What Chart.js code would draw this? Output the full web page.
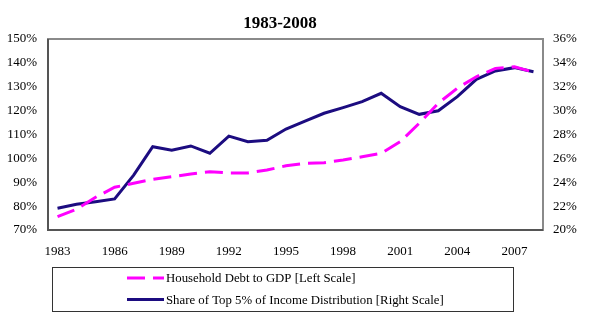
<!DOCTYPE html>
<html>
<head>
<meta charset="utf-8">
<title>1983-2008</title>
<script src="https://cdn.jsdelivr.net/npm/chart.js@4.4.1/dist/chart.umd.min.js"></script>
<style>
    html, body { margin: 0; padding: 0; background: #ffffff; }
    #chart-wrap { width: 589px; height: 330px; }
</style>
</head>
<body>
<div id="chart-wrap"><canvas id="debtShareChart" width="589" height="330"></canvas></div>
<script>
// years on the x axis
const years = [
    "1983", "1984", "1985", "1986", "1987", "1988", "1989", "1990", "1991",
    "1992", "1993", "1994", "1995", "1996", "1997", "1998", "1999", "2000",
    "2001", "2002", "2003", "2004", "2005", "2006", "2007", "2008"
];

// household debt to GDP, % (left scale)
const householdDebt = [
    75.6, 78.7, 83.7, 87.9, 89.6, 91.2, 92.3, 93.5, 94.4,
    93.9, 93.9, 95.1, 96.9, 97.9, 98.2, 99.3, 100.7, 102.1,
    107.0, 114.7, 123.1, 129.4, 134.2, 137.7, 138.4, 136.1
];

// share of top 5% of income distribution, % (right scale)
const topFiveShare = [
    21.82, 22.15, 22.37, 22.6, 24.6, 26.98, 26.68, 27.04, 26.43,
    27.87, 27.4, 27.51, 28.46, 29.13, 29.78, 30.25, 30.75, 31.45,
    30.33, 29.69, 29.99, 31.17, 32.62, 33.32, 33.6, 33.26
];

// axis ranges
const leftRange = [70, 150, 10];
const rightRange = [20, 36, 2];
const yearLabelStep = 3;

const chartTitle = "1983-2008";
const legendLabels = [
    "Household Debt to GDP [Left Scale]",
    "Share of Top 5% of Income Distribution [Right Scale]"
];

const SERIF = "'Liberation Serif', 'Times New Roman', serif";
const PINK = "#ff00ff";
const NAVY = "#1c0c80";

// frame round the plot area + the title
const framePlugin = {
    id: "frameAndTitle",
    beforeDatasetsDraw(chart) {
        const { ctx, chartArea: a } = chart;
        ctx.save();
        ctx.strokeStyle = "#8a8a8a";
        ctx.lineWidth = 2;
        ctx.strokeRect(a.left, a.top, a.right - a.left, a.bottom - a.top);
        // left & bottom edges a bit darker, like the original
        ctx.strokeStyle = "#555";
        ctx.beginPath();
        ctx.moveTo(a.left, a.top);
        ctx.lineTo(a.left, a.bottom);
        ctx.lineTo(a.right, a.bottom);
        ctx.stroke();
        ctx.restore();
    },
    afterDraw(chart) {
        const ctx = chart.ctx;
        ctx.save();
        ctx.fillStyle = "#000";
        ctx.font = "bold 17px " + SERIF;
        ctx.textAlign = "center";
        ctx.textBaseline = "middle";
        ctx.fillText(chartTitle, 280, 24);
        ctx.restore();
    }
};

// boxed legend below the axis, rows left aligned
const boxLegendPlugin = {
    id: "boxLegend",
    afterDraw(chart) {
        const ctx = chart.ctx;
        ctx.save();
        ctx.strokeStyle = "#333";
        ctx.lineWidth = 1;
        ctx.strokeRect(52.5, 267.5, 461, 44);

        const rowsY = [278, 299.5];
        chart.data.datasets.forEach((ds, i) => {
            ctx.strokeStyle = ds.borderColor;
            ctx.lineWidth = ds.borderWidth;
            ctx.setLineDash(ds.borderDash || []);
            ctx.beginPath();
            ctx.moveTo(127, rowsY[i]);
            ctx.lineTo(164, rowsY[i]);
            ctx.stroke();
            ctx.setLineDash([]);
            ctx.fillStyle = "#000";
            ctx.font = "12.8px " + SERIF;
            ctx.textAlign = "left";
            ctx.textBaseline = "middle";
            ctx.fillText(legendLabels[i], 166, rowsY[i] + 1);
        });
        ctx.restore();
    }
};

Chart.defaults.font.family = SERIF;
Chart.defaults.color = "#000";

new Chart(document.getElementById("debtShareChart"), {
    type: "line",
    data: {
        labels: years,
        datasets: [
            {
                label: legendLabels[0],
                data: householdDebt,
                yAxisID: "yLeft",
                borderColor: PINK,
                borderWidth: 3,
                borderDash: [18, 8],
                pointRadius: 0,
                tension: 0,
                fill: false
            },
            {
                label: legendLabels[1],
                data: topFiveShare,
                yAxisID: "yRight",
                borderColor: NAVY,
                borderWidth: 3,
                pointRadius: 0,
                tension: 0,
                fill: false
            }
        ]
    },
    options: {
        responsive: false,
        animation: false,
        layout: { padding: { top: 39, left: 0, right: 0, bottom: 0 } },
        plugins: {
            legend: { display: false },
            title: { display: false },
            tooltip: { enabled: false }
        },
        scales: {
            x: {
                offset: true,
                grid: { display: false, drawTicks: false },
                border: { display: false },
                ticks: {
                    autoSkip: false,
                    maxRotation: 0,
                    padding: 14,
                    font: { size: 13 },
                    callback: function (val, idx) {
                        return idx % yearLabelStep === 0 ? this.getLabelForValue(val) : "";
                    }
                },
                afterFit: (scale) => { scale.height = 100; }
            },
            yLeft: {
                position: "left",
                min: leftRange[0],
                max: leftRange[1],
                grid: { display: false, drawTicks: false },
                border: { display: false },
                ticks: {
                    stepSize: leftRange[2],
                    padding: 11,
                    font: { size: 13 },
                    callback: (v) => v + "%"
                },
                afterFit: (scale) => { scale.width = 48; }
            },
            yRight: {
                position: "right",
                min: rightRange[0],
                max: rightRange[1],
                grid: { display: false, drawTicks: false },
                border: { display: false },
                ticks: {
                    stepSize: rightRange[2],
                    padding: 10,
                    font: { size: 13 },
                    callback: (v) => v + "%"
                },
                afterFit: (scale) => { scale.width = 46; }
            }
        }
    },
    plugins: [framePlugin, boxLegendPlugin]
});
</script>
</body>
</html>
